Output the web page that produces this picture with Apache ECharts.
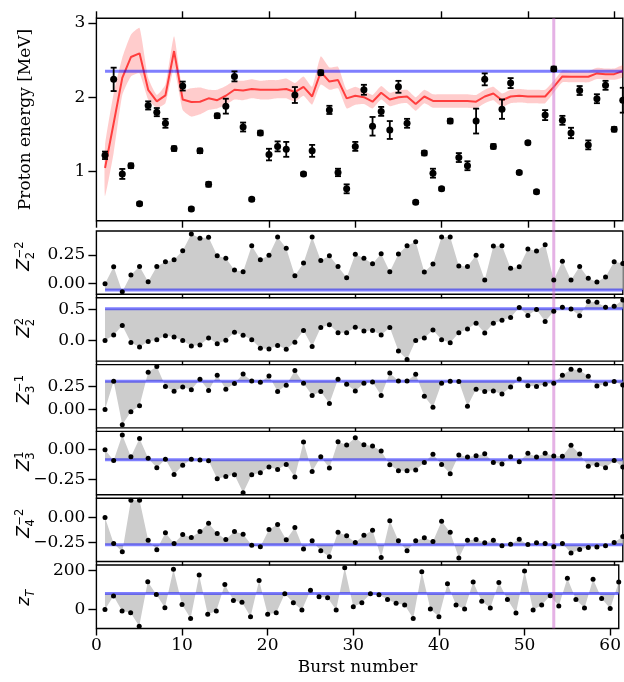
<!DOCTYPE html>
<html><head><meta charset="utf-8">
<script src="https://cdn.jsdelivr.net/npm/echarts@6/dist/echarts.min.js"></script>
<style>html,body{margin:0;padding:0;background:#fff}#c{width:624px;height:682px}</style>
</head><body><div id="c"></div>
<script>
// ---------------- data ----------------
const bursts = [1,2,3,4,5,6,7,8,9,10,11,12,13,14,15,16,17,18,19,20,21,22,23,24,25,26,27,28,29,30,31,32,33,34,35,36,37,38,39,40,41,42,43,44,45,46,47,48,49,50,51,52,53,54,55,56,57,58,59,60,61];
const xTicks = [0,10,20,30,40,50,60];

const energy = [1.22,2.24,0.97,1.08,0.57,1.89,1.80,1.65,1.31,2.15,0.50,1.28,0.83,1.75,1.88,2.28,1.60,0.63,1.52,1.23,1.34,1.30,2.03,0.97,1.28,2.33,1.83,0.99,0.77,1.34,2.10,1.61,1.81,1.56,2.14,1.65,0.59,1.25,0.98,0.77,1.68,1.19,1.08,1.68,2.24,1.34,1.84,2.19,0.99,1.39,0.73,1.76,2.38,1.69,1.52,2.09,1.36,1.98,2.16,1.57,1.96];
const energyErr = [0.05,0.157,0.067,0.03,0.02,0.055,0.055,0.06,0.03,0.06,0.02,0.03,0.03,0.03,0.10,0.067,0.06,0.02,0.03,0.078,0.067,0.10,0.107,0.02,0.08,0.03,0.055,0.05,0.06,0.06,0.067,0.125,0.06,0.12,0.08,0.06,0.02,0.03,0.06,0.02,0.03,0.06,0.06,0.167,0.08,0.03,0.13,0.067,0.02,0.02,0.02,0.067,0.03,0.06,0.07,0.06,0.06,0.06,0.06,0.03,0.167];
const fitLine = [1.05,1.65,2.26,2.54,2.59,2.10,1.945,2.025,2.62,1.97,1.935,1.94,1.985,1.96,2.02,2.10,2.09,2.11,2.10,2.10,2.10,2.11,2.07,2.14,2.01,2.34,2.21,2.23,1.985,2.02,2.00,1.94,2.06,1.97,2.00,2.01,1.91,2.01,1.95,1.95,1.95,1.95,1.95,1.94,2.01,2.05,1.96,2.01,2.02,2.01,2.01,2.01,2.14,2.28,2.275,2.275,2.275,2.32,2.31,2.31,2.35];
const bandLo = [0.67,1.25,2.03,2.28,2.32,1.97,1.86,1.92,2.39,1.83,1.74,1.77,1.83,1.85,1.90,1.97,1.96,1.985,1.97,1.97,1.985,1.985,1.94,2.02,1.90,2.17,2.10,2.12,1.85,1.90,1.91,1.85,1.97,1.88,1.91,1.92,1.82,1.92,1.86,1.86,1.86,1.86,1.86,1.85,1.92,1.96,1.87,1.92,1.93,1.92,1.92,1.92,2.06,2.20,2.20,2.20,2.20,2.245,2.235,2.235,2.27];
const bandHi = [1.35,2.05,2.53,2.84,2.93,2.26,2.03,2.17,2.82,2.10,2.12,2.13,2.10,2.10,2.15,2.22,2.22,2.24,2.22,2.23,2.23,2.25,2.19,2.28,2.14,2.55,2.40,2.41,2.10,2.14,2.09,2.03,2.15,2.06,2.09,2.10,2.00,2.10,2.04,2.04,2.04,2.04,2.04,2.03,2.10,2.14,2.05,2.10,2.11,2.10,2.10,2.10,2.22,2.36,2.35,2.35,2.35,2.395,2.385,2.385,2.43];
const energyRef = 2.35;
const markedBurst = 53;

const z2m2 = [0.00,0.148,-0.07,0.076,0.151,0.017,0.151,0.192,0.209,0.288,0.433,0.395,0.404,0.244,0.221,0.119,0.105,0.331,0.209,0.247,0.407,0.308,0.07,0.180,0.407,0.203,0.244,0.151,0.052,0.256,0.221,0.174,0.262,0.105,0.259,0.331,0.366,0.102,0.172,0.407,0.407,0.154,0.151,0.247,0.032,0.328,0.331,0.134,0.148,0.302,0.285,0.340,0.032,0.195,0.032,0.151,0.047,0.015,0.058,0.192,0.177];
const z2p2 = [0.00,0.087,0.239,-0.033,-0.103,-0.016,0.011,0.076,0.054,0.00,-0.087,-0.071,0.038,-0.054,0.005,0.130,0.082,0.011,-0.125,-0.136,-0.082,-0.141,-0.027,0.158,-0.098,0.207,0.250,0.125,0.125,0.212,0.152,0.158,0.087,0.207,-0.168,-0.304,0.00,0.038,0.168,0.011,-0.038,0.125,0.185,0.277,0.12,0.277,0.326,0.370,0.527,0.402,0.495,0.304,0.467,0.533,0.505,0.397,0.625,0.614,0.533,0.549,0.647];
const z3m1 = [0,0.308,-0.167,-0.025,0.04,0.405,0.467,0.25,0.199,0.246,0.214,0.329,0.207,0.373,0.22,0.282,0.387,0.31,0.297,0.366,0.196,0.264,0.424,0.286,0.152,0.196,0.065,0.329,0.275,0.203,0.286,0.3,0.152,0.398,0.31,0.31,0.384,0.145,0.025,0.286,0.308,0.304,0.036,0.22,0.196,0.203,0.17,0.246,0.333,0.26,0.25,0.275,0.286,0.373,0.438,0.427,0.362,0.257,0.279,0.304,0.268];
const z3p1 = [0,-0.09,0.124,-0.059,0.095,-0.073,-0.152,-0.081,-0.208,-0.132,-0.081,-0.087,-0.093,-0.244,-0.225,-0.211,-0.362,-0.211,-0.194,-0.146,-0.166,-0.124,-0.23,0.065,-0.183,-0.059,-0.154,0.067,0.039,0.101,0.042,0.031,-0.011,-0.126,-0.177,-0.177,-0.171,-0.107,-0.039,-0.124,-0.202,-0.045,-0.061,-0.05,-0.034,-0.107,-0.121,-0.059,-0.101,-0.031,-0.061,-0.031,-0.053,-0.056,0.037,-0.036,-0.14,-0.126,-0.152,-0.09,-0.146];
const z4m2 = [0,-0.26,-0.343,0.174,0.174,-0.226,-0.323,-0.153,-0.26,-0.17,-0.2,-0.14,-0.056,-0.16,-0.22,-0.14,-0.166,-0.276,-0.293,-0.12,-0.07,-0.223,-0.1,-0.316,-0.233,-0.333,-0.393,-0.146,-0.183,-0.25,-0.176,-0.126,-0.4,-0.033,-0.233,-0.333,-0.233,-0.203,-0.24,-0.036,-0.146,-0.406,-0.226,-0.22,-0.253,-0.226,-0.283,-0.266,-0.216,-0.27,-0.253,-0.26,-0.293,-0.26,-0.356,-0.32,-0.3,-0.296,-0.283,-0.25,-0.19];
const zT = [0,68,-8,-17,-85,141,76,9,205,25,-46,175,-25,-8,127,46,37,-37,147,-25,-17,80,34,-3,97,64,59,-3,212,14,34,80,75,51,32,22,-46,192,2,-37,131,22,2,139,41,7,137,51,-18,195,-3,22,70,17,158,51,7,153,56,5,139];
const zernikeRefs = [-0.055, 0.51, 0.308, -0.084, -0.273, 81];

const yTickVals = [[1,2,3],[0,0.25],[0,0.5],[0,0.25],[-0.25,0],[-0.25,0],[0,200]];
const yTickDecimals = [0,2,1,2,2,2,0];

// ---------------- layout / style ----------------
const L = 96.4, W = 526.4;
const tops = [18.3, 231, 297.8, 364.6, 431.4, 498.2, 565];
const heights = [202.4, 63.3, 63.3, 63.3, 63.3, 63.3, 63.5];
const yRanges = [[0.342,3.06],[-0.092,0.459],[-0.331,0.684],[-0.2,0.489],[-0.379,0.154],[-0.44,0.194],[-97,226]];
const SERIF = 'DejaVu Serif';
const BLUE = 'rgba(0,0,255,0.5)';
const GRAY = '#cccccc';

const panels = [z2m2, z2p2, z3m1, z3p1, z4m2, zT];

const grid = tops.map((t,i)=>({left:L, width:W, top:t, height:heights[i], show:true,
  borderColor:'#000', borderWidth:1.4, backgroundColor:'transparent', containLabel:false}));

const xAxis = [];
tops.forEach((t,i)=>{
  xAxis.push({gridIndex:i, type:'value', min:0, max:61, position:'bottom',
    axisLine:{show:false, onZero:false}, splitLine:{show:false},
    axisTick:{show:true, length:(i===0||i===6)?7:4, customValues:xTicks, lineStyle:{color:'#000', width:1.4}},
    axisLabel:{show:i===6, customValues:xTicks, margin:9, color:'#000', fontFamily:SERIF, fontSize:17},
    name: i===6 ? 'Burst number' : '', nameLocation:'middle', nameGap:31,
    nameTextStyle:{color:'#000', fontFamily:SERIF, fontSize:17}
  });
});
// top ticks of the energy panel
xAxis.push({gridIndex:0, type:'value', min:0, max:61, position:'top',
  axisLine:{show:false, onZero:false}, splitLine:{show:false},
  axisTick:{show:true, length:7, customValues:xTicks, lineStyle:{color:'#000', width:1.4}},
  axisLabel:{show:false}});

const fmt = d => v => { let s = (Math.abs(v)<1e-9?0:v).toFixed(d); return s.replace('-', '\u2212'); };
const yAxis = tops.map((t,i)=>({gridIndex:i, type:'value', min:yRanges[i][0], max:yRanges[i][1],
  axisLine:{show:false, onZero:false}, splitLine:{show:false},
  axisTick:{show:true, length:8, customValues:yTickVals[i], lineStyle:{color:'#000', width:1.4}},
  axisLabel:{customValues:yTickVals[i], formatter:fmt(yTickDecimals[i]), margin:11, color:'#000', fontFamily:SERIF, fontSize:17},
  name: i===0 ? 'Proton energy [MeV]' : '', nameLocation:'middle', nameGap:62, nameRotate:90,
  nameTextStyle:{color:'#000', fontFamily:SERIF, fontSize:17}
}));

const series = [];
// band
series.push({type:'custom', xAxisIndex:0, yAxisIndex:0, z:1, silent:true, data:[[30,2]],
  renderItem:(params, api)=>{
    const pts = [];
    for (let j=0;j<bursts.length;j++) pts.push(api.coord([bursts[j], bandHi[j]]));
    for (let j=bursts.length-1;j>=0;j--) pts.push(api.coord([bursts[j], bandLo[j]]));
    return {type:'polygon', shape:{points:pts, smooth:0.15}, style:{fill:'rgba(255,0,0,0.2)'}};
  }});
series.push({type:'line', xAxisIndex:0, yAxisIndex:0, z:2, silent:true, symbol:'none',
  data:bursts.map((b,j)=>[b, fitLine[j]]), lineStyle:{color:'rgba(255,0,0,0.7)', width:2}});
series.push({type:'line', xAxisIndex:0, yAxisIndex:0, z:2, silent:true, symbol:'none',
  data:[[bursts[0], energyRef],[bursts[bursts.length-1], energyRef]], lineStyle:{color:BLUE, width:3}});
series.push({type:'custom', xAxisIndex:0, yAxisIndex:0, z:4, silent:true,
  data:bursts.map((b,j)=>[b, energy[j]-energyErr[j], energy[j]+energyErr[j]]),
  encode:{x:0, y:[1,2]},
  renderItem:(params, api)=>{
    const x = api.value(0);
    const lo = api.coord([x, api.value(1)]);
    const hi = api.coord([x, api.value(2)]);
    const cw = 3, st = {stroke:'#000', lineWidth:1.8};
    return {type:'group', children:[
      {type:'line', shape:{x1:lo[0],y1:lo[1],x2:hi[0],y2:hi[1]}, style:st},
      {type:'line', shape:{x1:lo[0]-cw,y1:lo[1],x2:lo[0]+cw,y2:lo[1]}, style:st},
      {type:'line', shape:{x1:hi[0]-cw,y1:hi[1],x2:hi[0]+cw,y2:hi[1]}, style:st}
    ]};
  }});
series.push({type:'scatter', xAxisIndex:0, yAxisIndex:0, z:5, silent:true, symbol:'circle', symbolSize:7,
  itemStyle:{color:'#000', opacity:1}, data:bursts.map((b,j)=>[b, energy[j]])});

panels.forEach((arr,k)=>{
  const gi = k+1, ref = zernikeRefs[k];
  series.push({type:'line', xAxisIndex:gi, yAxisIndex:gi, z:1, silent:true, symbol:'none',
    data:bursts.map((b,j)=>[b, arr[j]]), lineStyle:{width:0, opacity:0},
    areaStyle:{origin:ref, color:GRAY, opacity:1}});
  series.push({type:'line', xAxisIndex:gi, yAxisIndex:gi, z:2, silent:true, symbol:'none',
    data:[[bursts[0], ref],[bursts[bursts.length-1], ref]], lineStyle:{color:BLUE, width:3}});
  series.push({type:'scatter', xAxisIndex:gi, yAxisIndex:gi, z:5, silent:true, symbol:'circle', symbolSize:5,
    itemStyle:{color:'#000', opacity:1}, data:bursts.map((b,j)=>[b, arr[j]])});
});

const chart = echarts.init(document.getElementById('c'), null, {renderer:'canvas'});
chart.setOption({animation:false, grid, xAxis, yAxis, series});

// panel labels (Z_n^m), rotated
const labels = [['Z','\u22122','2'],['Z','2','2'],['Z','\u22121','3'],['Z','1','3'],['Z','\u22122','4'],['z','','T']];
const graphic = [];
labels.forEach((lb,k)=>{
  const gi = k+1;
  const cy = tops[gi] + heights[gi]/2;
  const main = {type:'text', style:{text:lb[0], x:0, y:0, font:'italic 17px "DejaVu Sans"', fill:'#000', textAlign:'left', textVerticalAlign:'middle'}};
  const w = lb[0]==='Z' ? 11.8 : 9.5;
  const ch = [main];
  if (lb[1]) ch.push({type:'text', style:{text:lb[1], x:w+0.5, y:-4.5, font:'11.5px "DejaVu Sans"', fill:'#000', textAlign:'left', textVerticalAlign:'middle'}});
  ch.push({type:'text', style:{text:lb[2], x:w-0.5, y:6, font:(lb[0]==='z'?'italic ':'')+'11.5px "DejaVu Sans"', fill:'#000', textAlign:'left', textVerticalAlign:'middle'}});
  graphic.push({type:'group', x:25, y:cy + (lb[0]==='Z'?8:9), rotation:Math.PI/2, children:ch});
});
const px = chart.convertToPixel({xAxisIndex:0}, markedBurst);
graphic.push({type:'line', z:3, silent:true, shape:{x1:px, y1:tops[0], x2:px, y2:tops[6]+heights[6]},
  style:{stroke:'rgba(204,102,204,0.5)', lineWidth:3}});
chart.setOption({graphic});
</script>
</body></html>
